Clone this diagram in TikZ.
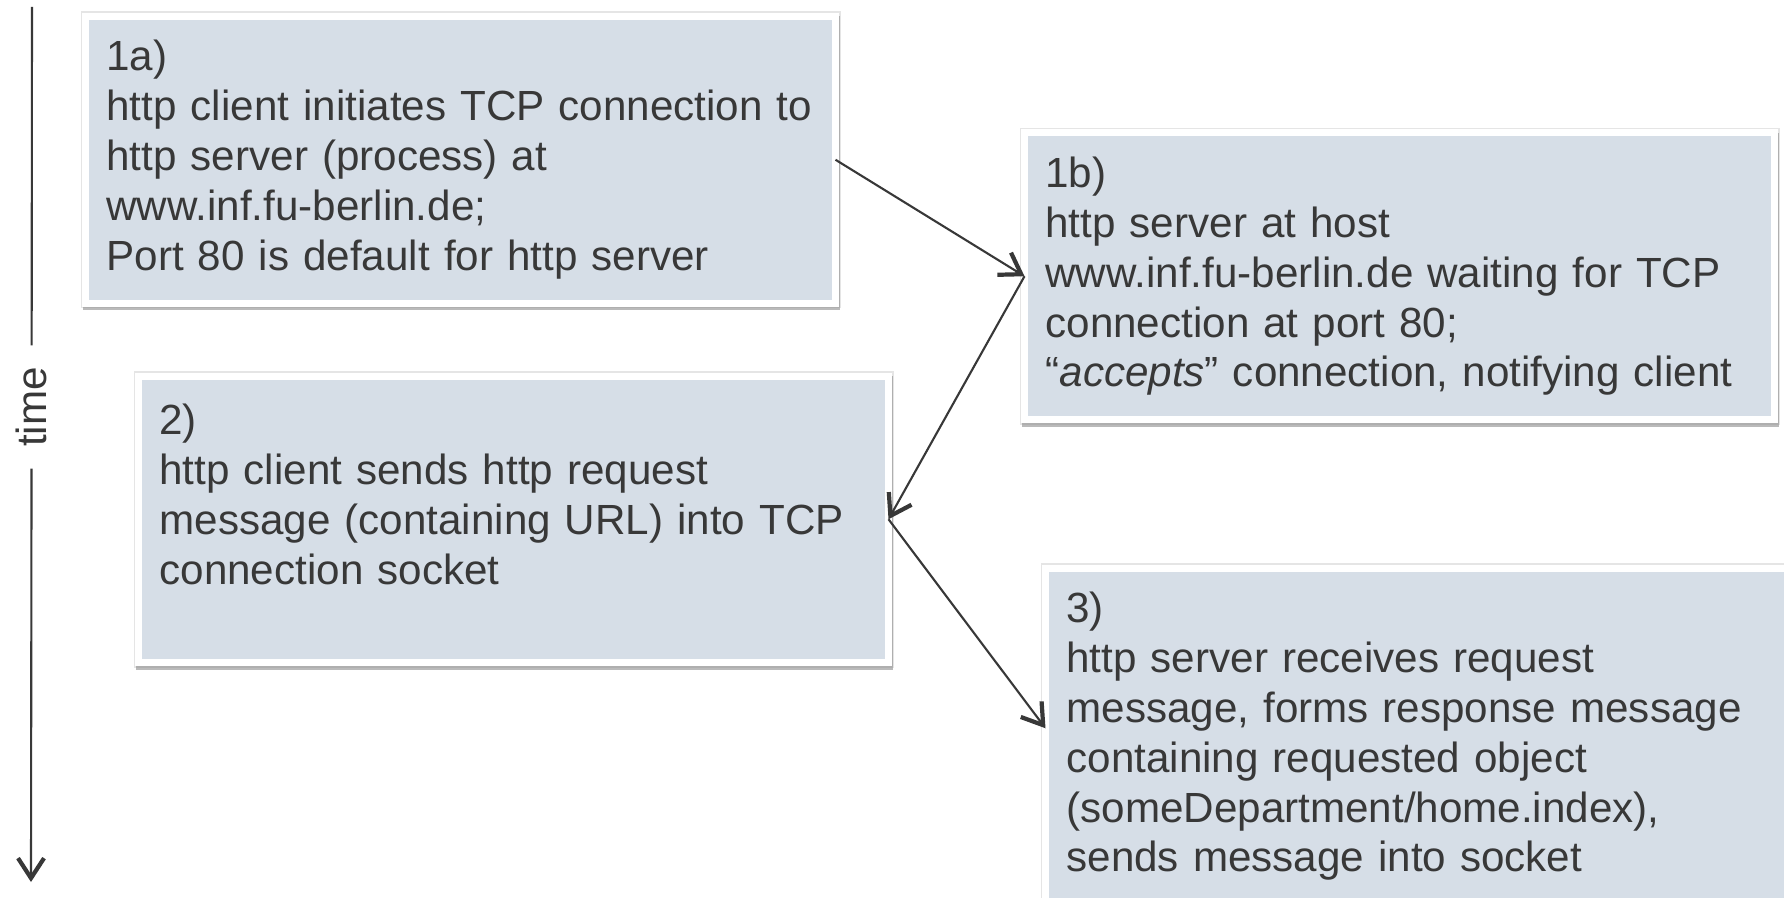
\documentclass[tikz,border=0pt]{standalone}
\usepackage{fontspec}
\setmainfont{Liberation Sans}
\usetikzlibrary{arrows.meta,shadows}
\definecolor{boxfill}{HTML}{D6DEE7}
\definecolor{inkgray}{HTML}{383838}

\begin{document}
\begin{tikzpicture}[msg box/.style={anchor=north west,fill=boxfill,draw=white,line width=0.07cm,outer sep=0pt,minimum width=7.5cm,minimum height=2.865cm,text width=7.08cm,inner xsep=0.21cm,align=left,text=inkgray,font=\fontsize{12pt}{14.2pt}\selectfont,
          general shadow={fill=black!10,draw=black!10,line width=0.1cm},
          drop shadow={shadow xshift=0.01cm,shadow yshift=-0.035cm,fill=black!45,draw=black!45,line width=0.07cm,opacity=0.6}},
        conn/.style={draw=inkgray,line width=0.6pt,-{Straight Barb[length=0.2cm,width=0.26cm,line width=1.2pt]}}]
        		\useasboundingbox (0,0) rectangle (17.84,-8.98);
        		%nodes
        			  \node[msg box] (step1a) at (0.855,-0.165) {1a)\\ http client initiates TCP connection to\\ http server (process) at\\ www.inf.fu-berlin.de;\\ Port 80 is default for http server};
        			  \node[msg box] (step1b) at (10.245,-1.33) {1b)\\ http server at host\\ www.inf.fu-berlin.de waiting for TCP\\ connection at port 80;\\ “\textit{accepts}” connection, notifying client};
        			  \node[msg box] (step2) at (1.385,-3.76) {2)\\ http client sends http request\\ message (containing URL) into TCP\\ connection socket\\ ~};
        			  \node[msg box,minimum height=3.365cm] (step3) at (10.455,-5.68) {3)\\ http server receives request\\ message, forms response message\\ containing requested object\\ (someDepartment/home.index),\\ sends message into socket};
        		%time axis
        			  \coordinate (ttop) at (0.32,-0.07);
        			  \node[rotate=90,text=inkgray,font=\fontsize{12pt}{14pt}\selectfont,inner xsep=0.21cm,inner ysep=0pt] (time) at (0.316,-4.07) {time};
        			  \coordinate (tbot) at (0.31,-8.82);
        			  \draw[inkgray,line width=0.6pt] (ttop) -- (time);
        			  \draw[conn] (time) -- (tbot);
        		%Edges
        			  \draw[conn] (step1a.east) -- (step1b.west);
        			  \draw[conn] (step1b.west) -- (step2.east);
        			  \draw[conn] (step2.east) -- ([yshift=0.08cm]step3.west);
        \end{tikzpicture}
\end{document}
